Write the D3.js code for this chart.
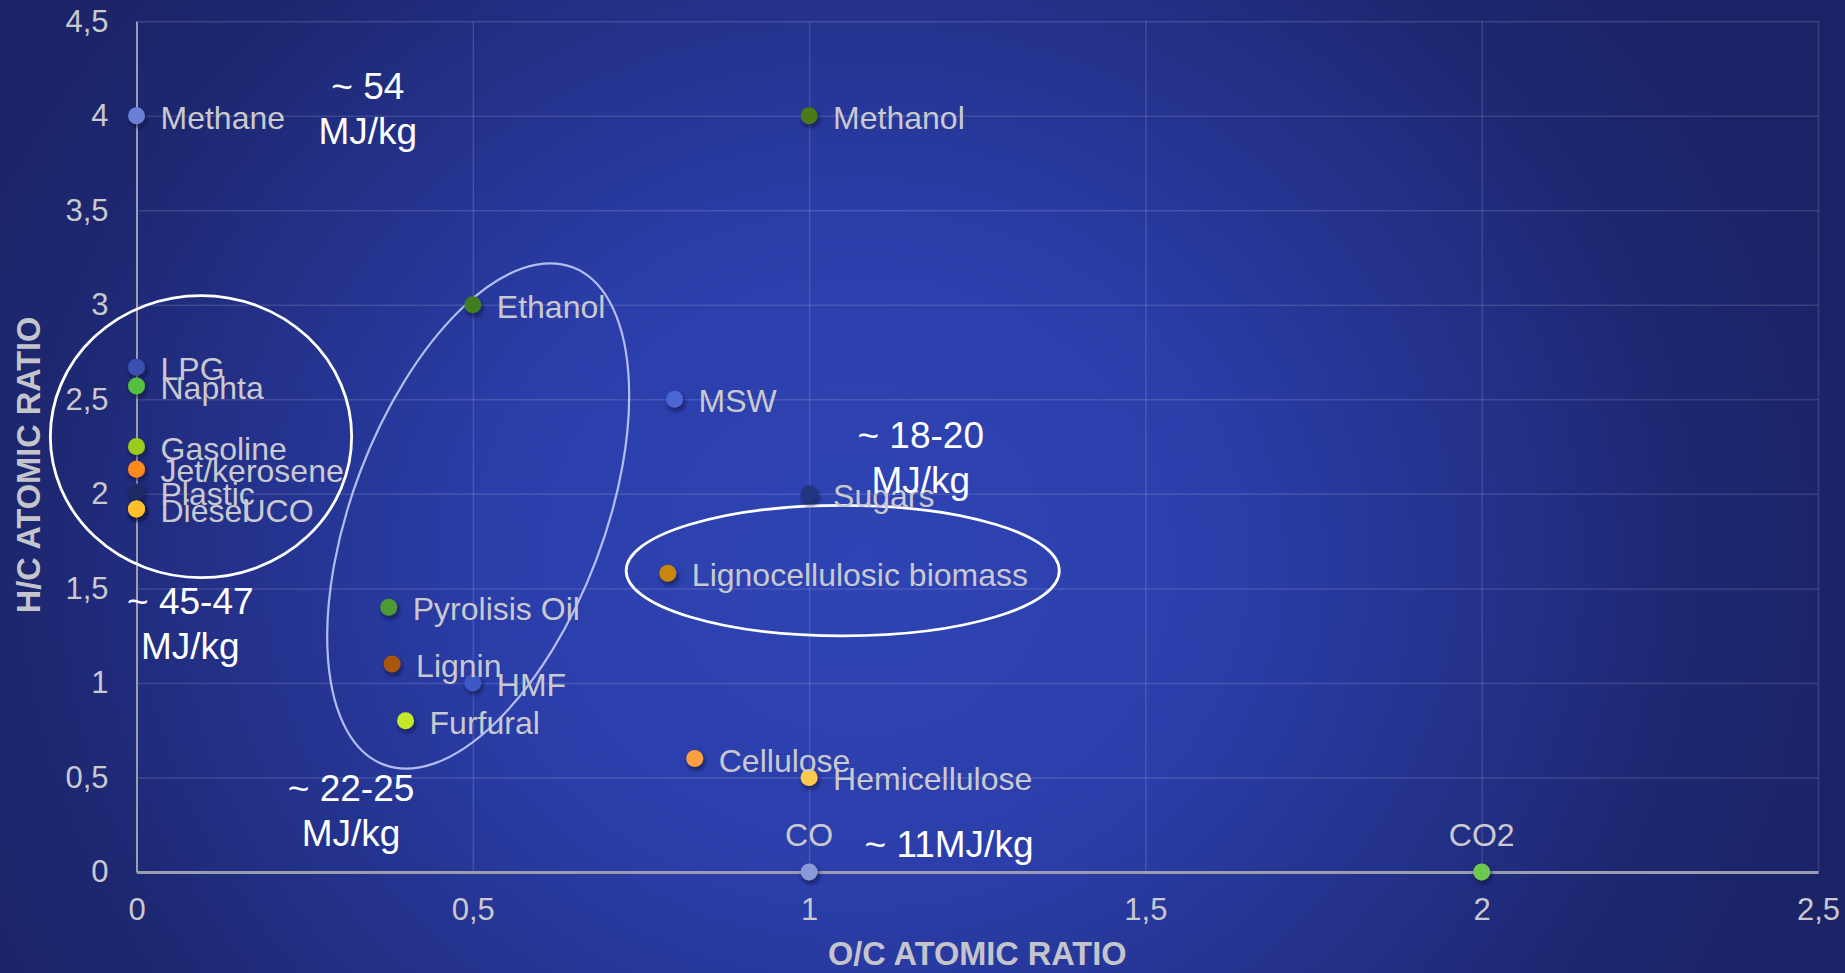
<!DOCTYPE html>
<html>
<head>
<meta charset="utf-8">
<script src="https://cdn.jsdelivr.net/npm/d3@7"></script>
<style>
  html, body { margin: 0; padding: 0; background: #1f2a78; overflow: hidden; }
  svg { display: block; }
  text { font-family: "Liberation Sans", Arial, sans-serif; }
</style>
</head>
<body>
<svg id="chart" width="1845" height="973"></svg>
<script>
// Feedstocks and fuels: O/C and H/C atomic ratios
const names = ["Methane", "Methanol", "Ethanol", "LPG", "Naphta", "Gasoline", "Jet/kerosene",
  "Plastic", "UCO", "Diesel", "MSW", "Sugars", "Lignocellulosic biomass", "Pyrolisis Oil",
  "Lignin", "HMF", "Furfural", "Cellulose", "Hemicellulose", "CO", "CO2"];
const ocRatio = [0, 1, 0.5, 0, 0, 0, 0, 0, 0, 0, 0.8, 1, 0.79, 0.375, 0.38, 0.5, 0.4, 0.83, 1, 1, 2];
const hcRatio = [4, 4, 3, 2.67, 2.57, 2.25, 2.13, 2.01, 1.92, 1.92, 2.5, 2, 1.58, 1.4, 1.1, 1, 0.8, 0.6, 0.5, 0, 0];
const pointColors = ["#6b7fd6", "#4c7a14", "#3f7d22", "#3b50b0", "#55c040", "#9bcc1a", "#ff8a1a",
  "#1f2a66", "#ffc02a", "#ffc02a", "#4b66d2", "#233483", "#c8860a", "#4d9a34",
  "#a8560c", "#3e58c4", "#c4e82c", "#ffa040", "#ffc94a", "#8a9ad8", "#6cc850"];

const xTicks = [0, 0.5, 1, 1.5, 2, 2.5];
const xTickLabels = ["0", "0,5", "1", "1,5", "2", "2,5"];
const yTicks = [0, 0.5, 1, 1.5, 2, 2.5, 3, 3.5, 4, 4.5];
const yTickLabels = ["0", "0,5", "1", "1,5", "2", "2,5", "3", "3,5", "4", "4,5"];

// Heating-value notes (MJ/kg) placed in data space
const noteLines = [["~ 54", "MJ/kg"], ["~ 45-47", "MJ/kg"], ["~ 22-25", "MJ/kg"], ["~ 18-20", "MJ/kg"], ["~ 11MJ/kg"]];
const noteX = [0.344, 0.080, 0.319, 1.166, 1.208];
const noteY = [4.152, 1.433, 0.439, 2.311, 0.143];

const W = 1845, H = 973;
const svg = d3.select("#chart");
const defs = svg.append("defs");

// Background: bright blue centre fading to deep navy
const bg = defs.append("radialGradient").attr("id", "bg")
  .attr("gradientUnits", "userSpaceOnUse")
  .attr("cx", 860).attr("cy", 560).attr("r", 1050)
  .attr("gradientTransform", "translate(860,560) scale(1,0.9) translate(-860,-560)");
bg.append("stop").attr("offset", 0).attr("stop-color", "#2f44b4");
bg.append("stop").attr("offset", 0.35).attr("stop-color", "#2b3eaa");
bg.append("stop").attr("offset", 0.8).attr("stop-color", "#1d2770");
bg.append("stop").attr("offset", 1).attr("stop-color", "#1b2366");
svg.append("rect").attr("width", W).attr("height", H).attr("fill", "url(#bg)");

const shadow = defs.append("filter").attr("id", "shadow")
  .attr("x", "-50%").attr("y", "-50%").attr("width", "200%").attr("height", "200%");
shadow.append("feDropShadow").attr("dx", 1.5).attr("dy", 3).attr("stdDeviation", 2)
  .attr("flood-color", "#0a0f30").attr("flood-opacity", 0.7);

const x = d3.scaleLinear().domain([0, 2.5]).range([136.5, 1818]);
const y = d3.scaleLinear().domain([0, 4.5]).range([872, 21.2]);

// Gridlines
svg.append("g").attr("transform", `translate(0,${y(0)})`)
  .call(d3.axisBottom(x).tickValues(xTicks).tickSize(-(y(0) - y(4.5))).tickFormat(""))
  .call(g => g.select(".domain").remove())
  .call(g => g.selectAll("line").attr("stroke", "rgba(255,255,255,0.13)").attr("stroke-width", 1.5));
svg.append("g").attr("transform", `translate(${x(0)},0)`)
  .call(d3.axisLeft(y).tickValues(yTicks).tickSize(-(x(2.5) - x(0))).tickFormat(""))
  .call(g => g.select(".domain").remove())
  .call(g => g.selectAll("line").attr("stroke", "rgba(255,255,255,0.13)").attr("stroke-width", 1.5));

// Axis lines and tick labels
const tickColor = "#c9c9cf";
svg.append("g").attr("transform", `translate(0,${y(0)})`)
  .call(d3.axisBottom(x).tickValues(xTicks).tickSize(0).tickPadding(26)
    .tickFormat((d, i) => xTickLabels[i]))
  .call(g => g.select(".domain").attr("stroke", "#9a9cb0").attr("stroke-width", 3))
  .call(g => g.selectAll("text").attr("fill", tickColor).attr("font-size", 31)
    .attr("font-family", "Liberation Sans, Arial, sans-serif"));
svg.append("g").attr("transform", `translate(${x(0)},0)`)
  .call(d3.axisLeft(y).tickValues(yTicks).tickSize(0).tickPadding(28)
    .tickFormat((d, i) => yTickLabels[i]))
  .call(g => g.select(".domain").attr("stroke", "#9a9cb0").attr("stroke-width", 2))
  .call(g => g.selectAll("text").attr("fill", tickColor).attr("font-size", 31)
    .attr("font-family", "Liberation Sans, Arial, sans-serif"));

// Axis titles
svg.append("text").attr("x", (x(0) + x(2.5)) / 2).attr("y", 954)
  .attr("text-anchor", "middle").attr("dominant-baseline", "central")
  .attr("font-size", 32.5).attr("font-weight", "bold").attr("fill", "#c4c4cc")
  .text("O/C ATOMIC RATIO");
svg.append("text").attr("transform", "translate(29,465) rotate(-90)")
  .attr("text-anchor", "middle").attr("dominant-baseline", "central")
  .attr("font-size", 32.5).attr("font-weight", "bold").attr("fill", "#c4c4cc")
  .text("H/C ATOMIC RATIO");

// Grouping outlines
svg.append("ellipse")
  .attr("cx", x(0.0959)).attr("cy", y(2.303))
  .attr("rx", x(0.224) - x(0)).attr("ry", y(0) - y(0.746))
  .attr("fill", "none").attr("stroke", "#ffffff").attr("stroke-width", 2.8);
svg.append("ellipse")
  .attr("transform", `translate(${x(0.508)},${y(1.883)}) rotate(20.8)`)
  .attr("rx", 126).attr("ry", 266)
  .attr("fill", "none").attr("stroke", "rgba(205,212,255,0.85)").attr("stroke-width", 2.2);
svg.append("ellipse")
  .attr("cx", x(1.05)).attr("cy", y(1.594))
  .attr("rx", x(0.322) - x(0)).attr("ry", y(0) - y(0.345))
  .attr("fill", "none").attr("stroke", "#ffffff").attr("stroke-width", 2.8);

// Points
const pts = names.map((n, i) => ({ name: n, oc: ocRatio[i], hc: hcRatio[i], color: pointColors[i] }));
svg.append("g").selectAll("circle").data(pts).join("circle")
  .attr("cx", d => x(d.oc)).attr("cy", d => y(d.hc)).attr("r", 8.5)
  .attr("fill", d => d.color).attr("filter", "url(#shadow)");

// Point labels: to the right, except the gases which sit above their markers
const labelAbove = new Set(["CO", "CO2"]);
const labelShift = { "UCO": 106 };
svg.append("g").selectAll("text").data(pts).join("text")
  .attr("x", d => x(d.oc) + (labelAbove.has(d.name) ? 0 : (labelShift[d.name] || 24)))
  .attr("y", d => y(d.hc) + (labelAbove.has(d.name) ? -37 : 2))
  .attr("text-anchor", d => labelAbove.has(d.name) ? "middle" : "start")
  .attr("dominant-baseline", "central")
  .attr("font-size", 32).attr("fill", "#c9c9cf")
  .text(d => d.name);

// Heating-value notes
const notes = svg.append("g");
noteLines.forEach((lines, i) => {
  lines.forEach((t, j) => {
    notes.append("text")
      .attr("x", x(noteX[i])).attr("y", y(noteY[i]) + j * 45)
      .attr("text-anchor", "middle").attr("dominant-baseline", "central")
      .attr("font-size", 37).attr("fill", "#ffffff")
      .text(t);
  });
});
</script>
</body>
</html>
